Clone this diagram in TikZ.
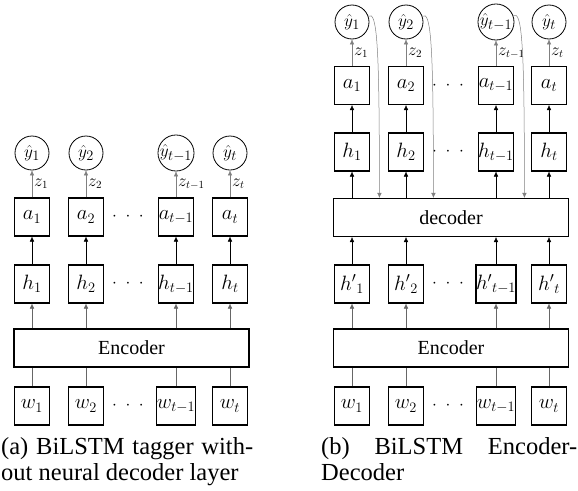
\documentclass[tikz,border=0pt]{standalone}
\usepackage{fontspec}
\setmainfont{Liberation Serif}
\usetikzlibrary{positioning,calc,arrows.meta}

\begin{document}
\begin{tikzpicture}[x=1pt,y=-1pt,>={Latex[length=5pt,width=4.5pt]},
	cell/.style={draw,line width=1.1pt,minimum width=35pt,minimum height=38pt,inner sep=0pt,font=\fontsize{20}{20}\selectfont},
	yout/.style={draw,circle,line width=0.8pt,minimum size=34pt,inner sep=0pt,font=\fontsize{19}{19}\selectfont},
	layer/.style={draw,line width=1.1pt,minimum width=235pt,minimum height=38pt,inner sep=0pt,font=\fontsize{20}{20}\selectfont},
	zlab/.style={right,inner sep=2pt,black,font=\fontsize{16}{16}\selectfont},
	dots/.style={font=\fontsize{18}{18}\selectfont},
	captext/.style={anchor=base west,inner sep=0pt,font=\fontsize{24.5}{26}\selectfont}]
	\useasboundingbox (0,0) rectangle (578,490);
	% (a) tagger without decoder
	\node[layer] (aenc) at (131.5,348) {Encoder};
	\foreach \x/\n/\s in {32/1/1,86/2/2,176/3/{t-1},230/4/t} {
		\node[cell] (aw\n) at (\x,406) {$w_{\s}$};
		\node[cell] (ah\n) at (\x,284) {$h_{\s}$};
		\node[cell] (aa\n) at (\x,217) {$a_{\s}$};
		\node[yout] (ay\n) at (\x,153) {$\hat{y}_{\s}$};
		\draw[gray!80!black] (aw\n) -- (aw\n |- aenc.south);
		\draw[->,gray!80!black] (aenc.north -| ah\n) -- (ah\n);
		\draw[->] (ah\n) -- (aa\n);
		\draw[->,gray] (aa\n) -- node[zlab] {$z_{\s}$} (ay\n);
	}
	\node[dots] at (128,406) {$\cdot\;\cdot\;\cdot$};
	\node[dots] at (128,284) {$\cdot\;\cdot\;\cdot$};
	\node[dots] at (128,217) {$\cdot\;\cdot\;\cdot$};
	% (b) encoder-decoder
	\node[layer] (benc) at (451,348) {Encoder};
	\node[layer] (bdec) at (451,217.5) {decoder};
	\foreach \x/\n/\s in {352/1/1,406/2/2,496/3/{t-1},549/4/t} {
		\node[cell] (bw\n) at (\x,406) {$w_{\s}$};
		\node[cell] (bhp\n) at (\x,284) {${h'}_{\s}$};
		\node[cell] (bh\n) at (\x,152) {$h_{\s}$};
		\node[cell] (ba\n) at (\x,85.5) {$a_{\s}$};
		\node[yout] (by\n) at (\x,22) {$\hat{y}_{\s}$};
		\draw[gray!80!black] (bw\n) -- (bw\n |- benc.south);
		\draw[->,gray!80!black] (benc.north -| bhp\n) -- (bhp\n);
		\draw[->] (bhp\n) -- (bhp\n |- bdec.south);
		\draw[->] (bdec.north -| bh\n) -- (bh\n);
		\draw[->] (bh\n) -- (ba\n);
		\draw[->,gray] (ba\n) -- node[zlab] {$z_{\s}$} (by\n);
	}
	\node[dots] at (448,406) {$\cdot\;\cdot\;\cdot$};
	\node[dots] at (448,284) {$\cdot\;\cdot\;\cdot$};
	\node[dots] at (448,152) {$\cdot\;\cdot\;\cdot$};
	\node[dots] at (448,85.5) {$\cdot\;\cdot\;\cdot$};
	% feedback of the predictions
	\foreach \n in {1,2,3} {
		\coordinate (bc\n) at ($(by\n.east)+(10,0)$);
		\draw[->,gray,line width=0.5pt] (by\n.20) .. controls +(9,-6) and +(0,-150) .. (bc\n |- bdec.north);
	}
	% captions
	\node[captext] (capa1) at (1,454) {\makebox[252pt][s]{(a) BiLSTM tagger with-}};
	\node[captext] (capa2) at (1,480) {out neural decoder layer};
	\node[captext] (capb1) at (321,454) {\makebox[256pt][s]{(b) BiLSTM Encoder-}};
	\node[captext] (capb2) at (321,480) {Decoder};
\end{tikzpicture}
\end{document}
